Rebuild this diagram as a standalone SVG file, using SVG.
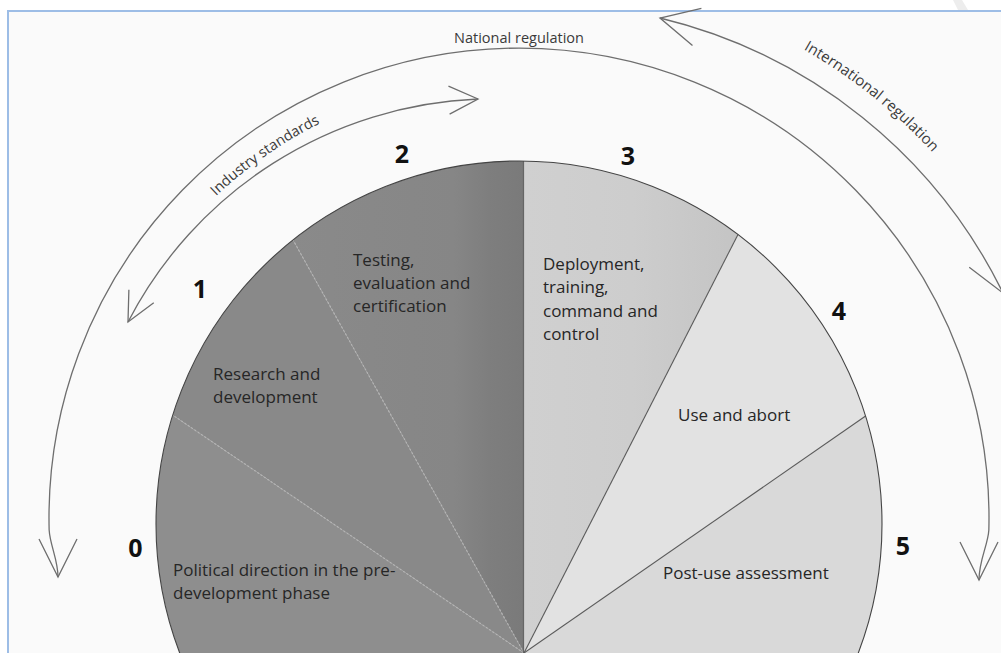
<svg xmlns="http://www.w3.org/2000/svg" width="1001" height="653" viewBox="0 0 1001 653">
  <style>
    .lbl { font-family: "Open Sans", "Liberation Sans", sans-serif; font-size: 17px; fill: #262626; }
    .num { font-family: "Open Sans", "Liberation Sans", sans-serif; font-size: 25px; font-weight: bold; fill: #111111; text-anchor: middle; }
    .arcl { font-family: "Open Sans", "Liberation Sans", sans-serif; font-size: 14.5px; fill: #3a3a3a; }
    .arc { fill: none; stroke: #6e6e6e; stroke-width: 1.3; }
    .dash { stroke: #b4b4b4; stroke-width: 1.2; stroke-dasharray: 2 2; fill: none; }
    .solid { stroke: #5a5a5a; stroke-width: 1.1; fill: none; }
  </style>
  <defs>
    <marker id="arrBig" markerUnits="userSpaceOnUse" markerWidth="60" markerHeight="60" viewBox="-50 -30 60 60" refX="0" refY="0" orient="auto-start-reverse" overflow="visible">
      <path d="M-38,-19 L0,0 L-38,19" fill="none" stroke="#6e6e6e" stroke-width="1.3"/>
    </marker>
    <marker id="arrSmall" markerUnits="userSpaceOnUse" markerWidth="60" markerHeight="60" viewBox="-50 -30 60 60" refX="0" refY="0" orient="auto-start-reverse" overflow="visible">
      <path d="M-29,-14 L0,0 L-29,14" fill="none" stroke="#6e6e6e" stroke-width="1.3"/>
    </marker>
    <clipPath id="pieClip">
      <circle cx="519" cy="524" r="363"/>
    </clipPath>
    <linearGradient id="g2" gradientUnits="userSpaceOnUse" x1="290" y1="0" x2="524" y2="0">
      <stop offset="0" stop-color="#8a8a8a"/>
      <stop offset="0.7" stop-color="#868686"/>
      <stop offset="0.85" stop-color="#7e7e7e"/>
      <stop offset="1" stop-color="#7a7a7a"/>
    </linearGradient>
    <linearGradient id="g3" gradientUnits="userSpaceOnUse" x1="524" y1="0" x2="740" y2="0">
      <stop offset="0" stop-color="#d0d0d0"/>
      <stop offset="0.5" stop-color="#cdcdcd"/>
      <stop offset="1" stop-color="#c4c4c4"/>
    </linearGradient>
  </defs>

  <!-- page background -->
  <rect x="0" y="0" width="1001" height="653" fill="#ffffff"/>
  <rect x="8" y="11" width="1000" height="650" fill="#fafafa" stroke="#9dbde6" stroke-width="2"/>
  <polygon points="953,0 962,0 968,10 958,10" fill="#ededed"/>

  <!-- pie sectors -->
  <g clip-path="url(#pieClip)">
    <g id="sector0"><polygon points="524,653 -3,296 -3,700 524,700" fill="#8e8e8e"/></g>
    <g id="sector1"><polygon points="524,653 -3,296 223.7,116" fill="#898989"/></g>
    <g id="sector2"><polygon points="524,653 223.7,116 524,100" fill="url(#g2)"/></g>
    <g id="sector3"><polygon points="524,653 524,100 802.2,109" fill="url(#g3)"/></g>
    <g id="sector4"><polygon points="524,653 802.2,109 1002,321" fill="#e2e2e2"/></g>
    <g id="sector5"><polygon points="524,653 1002,321 1002,700 524,700" fill="#d9d9d9"/></g>
    <line class="dash" x1="524" y1="653" x2="172.7" y2="415.1"/>
    <line class="dash" x1="524" y1="653" x2="293" y2="239.9"/>
    <line x1="523.5" y1="653" x2="523.5" y2="160" stroke="#666666" stroke-width="1.2"/>
    <line class="solid" x1="524" y1="653" x2="738" y2="234.5"/>
    <line class="solid" x1="524" y1="653" x2="865.6" y2="416"/>
  </g>
  <circle cx="519" cy="524" r="363" fill="none" stroke="#444444" stroke-width="1.1"/>

  <!-- connectors (arcs) -->
  <g id="connectors">
    <path id="industryArc" class="arc" d="M128,322 A413,413 0 0 1 478,99" marker-start="url(#arrSmall)" marker-end="url(#arrSmall)"/>
    <path id="nationalArc" class="arc" d="M58,577 C58,560 50,545 49.15,530 A470,470 0 1 1 988.85,530 C988,545 979,560 979,580" marker-start="url(#arrBig)" marker-end="url(#arrBig)"/>
    <path id="internationalArc" class="arc" d="M660,18 A517,517 0 0 1 1003,293" marker-start="url(#arrBig)" marker-end="url(#arrBig)"/>
    <path id="industryTextPath" d="M118.4,331.2 A442,442 0 0 1 480.5,77.7" fill="none"/>
    <path id="internationalTextPath" d="M615.7,-16 A540,540 0 0 1 1037.8,321" fill="none"/>
  </g>

  <!-- arc labels -->
  <g id="label-national">
    <text class="arcl" x="519" y="43" text-anchor="middle">National regulation</text>
  </g>
  <g id="label-industry">
    <text class="arcl"><textPath href="#industryTextPath" startOffset="50%" text-anchor="middle">Industry standards</textPath></text>
  </g>
  <g id="label-international">
    <text class="arcl" style="font-size:15px"><textPath href="#internationalTextPath" startOffset="50%" text-anchor="middle">International regulation</textPath></text>
  </g>

  <!-- sector labels -->
  <g id="node0">
    <text class="num" x="135.5" y="557">0</text>
    <text class="lbl" x="173" y="576">Political direction in the pre-</text>
    <text class="lbl" x="173" y="599">development phase</text>
  </g>
  <g id="node1">
    <text class="num" x="200" y="298">1</text>
    <text class="lbl" x="213" y="380">Research and</text>
    <text class="lbl" x="213" y="403">development</text>
  </g>
  <g id="node2">
    <text class="num" x="402" y="163">2</text>
    <text class="lbl" x="353" y="266">Testing,</text>
    <text class="lbl" x="353" y="289">evaluation and</text>
    <text class="lbl" x="353" y="312">certification</text>
  </g>
  <g id="node3">
    <text class="num" x="628" y="165">3</text>
    <text class="lbl" x="543" y="270">Deployment,</text>
    <text class="lbl" x="543" y="293">training,</text>
    <text class="lbl" x="543" y="317">command and</text>
    <text class="lbl" x="543" y="340">control</text>
  </g>
  <g id="node4">
    <text class="num" x="839" y="320">4</text>
    <text class="lbl" x="678" y="421">Use and abort</text>
  </g>
  <g id="node5">
    <text class="num" x="903" y="555">5</text>
    <text class="lbl" x="663" y="579">Post-use assessment</text>
  </g>
</svg>
